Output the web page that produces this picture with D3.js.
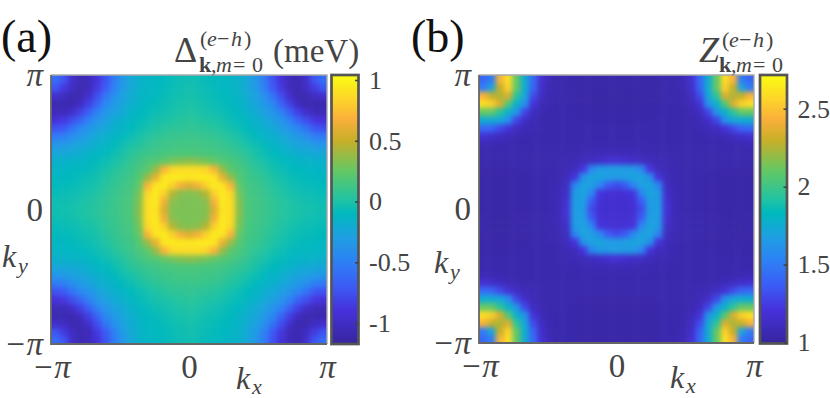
<!DOCTYPE html>
<html>
<head>
  <meta charset="UTF-8">
  <style>
    body { margin: 0; background: #fff; }
    svg { display: block; }
    text { font-family: "Liberation Serif", serif; fill: #444; }
  </style>
</head>
<body>
<svg width="830" height="398"></svg>
<script src="https://d3js.org/d3.v7.min.js"></script>
<script>
// one quadrant of each map: row/col 0 = k=0, row/col 16 = |k|=pi
const gapRows = [
  [.32,.32,.33,.58,.92,.88,.35,.17,.14,.11,.08,.05,.02,0,-.02,-.03,-.04],
  [.32,.32,.35,.66,.95,.88,.33,.17,.14,.11,.07,.04,.01,-.01,-.03,-.04,-.05],
  [.33,.35,.45,.82,.95,.85,.3,.16,.13,.1,.06,.02,-.01,-.03,-.05,-.06,-.07],
  [.58,.66,.82,.95,.92,.7,.25,.15,.12,.08,.04,0,-.03,-.05,-.07,-.08,-.09],
  [.92,.95,.95,.92,.62,.38,.2,.13,.1,.06,.01,-.02,-.05,-.07,-.09,-.1,-.11],
  [.88,.88,.85,.7,.38,.22,.17,.11,.07,.03,-.02,-.05,-.08,-.1,-.11,-.12,-.13],
  [.35,.33,.3,.25,.2,.17,.13,.08,.03,-.01,-.05,-.08,-.11,-.13,-.14,-.15,-.16],
  [.17,.17,.16,.15,.13,.11,.08,.04,-.01,-.05,-.09,-.12,-.15,-.19,-.21,-.23,-.24],
  [.14,.14,.13,.12,.1,.07,.03,-.01,-.04,-.09,-.13,-.16,-.22,-.25,-.28,-.33,-.35],
  [.11,.11,.1,.08,.06,.03,-.01,-.05,-.09,-.13,-.17,-.21,-.28,-.33,-.4,-.5,-.52],
  [.08,.07,.06,.04,.01,-.02,-.05,-.09,-.13,-.17,-.22,-.29,-.36,-.45,-.56,-.7,-.74],
  [.05,.04,.02,0,-.02,-.05,-.08,-.12,-.16,-.21,-.29,-.36,-.48,-.64,-.76,-.86,-.9],
  [.02,.01,-.01,-.03,-.05,-.08,-.11,-.15,-.22,-.28,-.36,-.48,-.66,-.82,-.96,-1.04,-1.04],
  [0,-.01,-.03,-.05,-.07,-.1,-.13,-.19,-.25,-.33,-.45,-.64,-.82,-1,-1.08,-1.08,-1.08],
  [-.02,-.03,-.05,-.07,-.09,-.11,-.14,-.21,-.28,-.4,-.56,-.76,-.96,-1.08,-1.08,-1,-.96],
  [-.03,-.04,-.06,-.08,-.1,-.12,-.15,-.23,-.33,-.5,-.7,-.86,-1.04,-1.08,-1,-.85,-.72],
  [-.04,-.05,-.07,-.09,-.11,-.13,-.16,-.24,-.35,-.52,-.74,-.9,-1.04,-1.08,-.96,-.72,-.6]
];
const zRows = [
  [1.17,1.17,1.18,1.3,1.66,1.68,1.2,1.08,1.06,1.05,1.05,1.04,1.04,1.03,1.03,1.03,1.04],
  [1.17,1.17,1.19,1.36,1.68,1.66,1.18,1.08,1.06,1.05,1.05,1.04,1.04,1.03,1.03,1.03,1.04],
  [1.18,1.19,1.22,1.55,1.7,1.66,1.15,1.08,1.06,1.05,1.05,1.04,1.04,1.03,1.03,1.03,1.04],
  [1.3,1.36,1.55,1.68,1.7,1.55,1.12,1.07,1.06,1.05,1.05,1.04,1.04,1.03,1.03,1.03,1.04],
  [1.66,1.68,1.7,1.7,1.6,1.22,1.1,1.07,1.06,1.05,1.05,1.04,1.04,1.04,1.03,1.03,1.04],
  [1.68,1.66,1.66,1.55,1.22,1.1,1.08,1.06,1.05,1.05,1.05,1.05,1.04,1.04,1.04,1.04,1.04],
  [1.2,1.18,1.15,1.12,1.1,1.08,1.07,1.06,1.05,1.05,1.05,1.05,1.05,1.05,1.05,1.05,1.05],
  [1.08,1.08,1.08,1.07,1.07,1.06,1.06,1.05,1.05,1.05,1.05,1.05,1.05,1.05,1.05,1.05,1.05],
  [1.06,1.06,1.06,1.06,1.06,1.05,1.05,1.05,1.05,1.05,1.05,1.05,1.05,1.06,1.06,1.07,1.08],
  [1.05,1.05,1.05,1.05,1.05,1.05,1.05,1.05,1.05,1.05,1.06,1.06,1.07,1.09,1.12,1.15,1.18],
  [1.05,1.05,1.05,1.05,1.05,1.05,1.05,1.05,1.05,1.06,1.07,1.09,1.12,1.2,1.3,1.4,1.42],
  [1.04,1.04,1.04,1.04,1.04,1.05,1.05,1.05,1.05,1.06,1.09,1.14,1.28,1.6,1.72,1.75,1.75],
  [1.04,1.04,1.04,1.04,1.04,1.04,1.05,1.05,1.05,1.07,1.12,1.28,1.62,1.78,1.95,2.1,2.1],
  [1.03,1.03,1.03,1.03,1.04,1.04,1.05,1.05,1.06,1.09,1.2,1.6,1.78,2.05,2.35,2.55,2.6],
  [1.03,1.03,1.03,1.03,1.03,1.04,1.05,1.05,1.06,1.12,1.3,1.72,1.95,2.35,2.25,2.3,2.45],
  [1.03,1.03,1.03,1.03,1.03,1.04,1.05,1.05,1.07,1.15,1.4,1.75,2.1,2.55,2.3,1.7,1.5],
  [1.04,1.04,1.04,1.04,1.04,1.04,1.05,1.05,1.08,1.18,1.42,1.75,2.1,2.6,2.45,1.5,1.42]
];
const kTicks = [-Math.PI, 0, Math.PI];
const kLabels = ["\u2212\u03c0", "0", "\u03c0"];
const gapRange = [-1.164, 1.033];
const gapTicks = [-1, -0.5, 0, 0.5, 1];
const gapLabels = ["-1", "-0.5", "0", "0.5", "1"];
const zRange = [1, 2.71];
const zTicks = [1, 1.5, 2, 2.5];
const zLabels = ["1", "1.5", "2", "2.5"];
// colormap: fraction of the range and colour
const mapStops = [0, .126, .21, .31, .4, .487, .535, .647, .76, .84, .92, 1];
const mapColors = ["#37269f","#4632dc","#3c5af5","#2d82f5","#1ea0e1","#00b9be","#1ec3a5","#64c864","#c8af28","#faaf3c","#fdd728","#f9fb14"];

const svg = d3.select("svg");
const defs = svg.append("defs");
defs.append("filter").attr("id", "soft")
    .attr("filterUnits", "userSpaceOnUse")
    .attr("x", 0).attr("y", 0).attr("width", 830).attr("height", 398)
    .attr("color-interpolation-filters", "sRGB")
  .append("feGaussianBlur").attr("stdDeviation", 2.4);

function drawPanel(id, rows, box, range, ticks, labels, barBox) {
  const color = d3.scaleLinear()
      .domain(mapStops.map(f => range[0] + (range[1] - range[0]) * f))
      .range(mapColors);

  // band scales over signed grid index, the quadrant is mirrored into the other three
  const idx = d3.range(-16, 17);
  const bx = d3.scaleBand().domain(idx).range([box.x0, box.x1]);
  const by = d3.scaleBand().domain(idx).range([box.y1, box.y0]);
  const pad = 14; // outer cells overhang the frame so the blur doesn't fade at the edge

  defs.append("clipPath").attr("id", "clip" + id)
    .append("rect")
      .attr("x", box.x0).attr("y", box.y0)
      .attr("width", box.x1 - box.x0).attr("height", box.y1 - box.y0);

  const cells = [];
  idx.forEach(j => idx.forEach(i => cells.push({ i, j, v: rows[Math.abs(j)][Math.abs(i)] })));

  svg.append("g").attr("clip-path", `url(#clip${id})`)
    .append("g").attr("filter", "url(#soft)")
    .selectAll("rect").data(cells).enter().append("rect")
      .attr("x", d => bx(d.i) - (d.i === -16 ? pad : 0))
      .attr("y", d => by(d.j) - (d.j === 16 ? pad : 0))
      .attr("width", d => bx.bandwidth() + (Math.abs(d.i) === 16 ? pad : 0) + 0.5)
      .attr("height", d => by.bandwidth() + (Math.abs(d.j) === 16 ? pad : 0) + 0.5)
      .attr("fill", d => color(d.v));

  // frame: left and bottom read darker than top and right in the original
  const frame = svg.append("g").attr("fill", "none");
  frame.append("path").attr("d", `M${box.x0},${box.y0}H${box.x1}V${box.y1}`)
      .attr("stroke", "#a8a8a8").attr("stroke-width", 1.4);
  frame.append("path").attr("d", `M${box.x0},${box.y0}V${box.y1}H${box.x1}`)
      .attr("stroke", "#666").attr("stroke-width", 1.8);

  const x = d3.scaleLinear().domain([-Math.PI, Math.PI]).range([box.x0, box.x1]);
  const y = d3.scaleLinear().domain([-Math.PI, Math.PI]).range([box.y1, box.y0]);
  const xAxis = svg.append("g").attr("transform", `translate(0,${box.y1})`)
      .call(d3.axisBottom(x).tickValues(kTicks).tickSize(0).tickPadding(11)
        .tickFormat((d, i) => kLabels[i]));
  const yAxis = svg.append("g").attr("transform", `translate(${box.x0},0)`)
      .call(d3.axisLeft(y).tickValues(kTicks).tickSize(0).tickPadding(8)
        .tickFormat((d, i) => kLabels[i]));
  [xAxis, yAxis].forEach(a => {
    a.select(".domain").remove();
    a.selectAll("text").attr("font-size", 33)
      .attr("font-style", d => d === 0 ? "normal" : "italic");
  });

  // colorbar
  const barY = d3.scaleLinear().domain(range).range([barBox.y1, barBox.y0]);
  const steps = d3.range(0, 134).map(s => range[0] + (range[1] - range[0]) * s / 133);
  svg.append("g").selectAll("rect").data(steps).enter().append("rect")
      .attr("x", barBox.x0).attr("width", barBox.x1 - barBox.x0)
      .attr("y", d => barY(d) - 1.5).attr("height", 3)
      .attr("fill", d => color(d));
  svg.append("rect")
      .attr("x", barBox.x0).attr("y", barBox.y0 - 1)
      .attr("width", barBox.x1 - barBox.x0).attr("height", barBox.y1 - barBox.y0 + 2)
      .attr("fill", "none").attr("stroke", "#555").attr("stroke-width", 2.7);
  const barAxis = svg.append("g").attr("transform", `translate(${barBox.x1},0)`)
      .call(d3.axisRight(barY).tickValues(ticks).tickSize(-3.5).tickPadding(10.5)
        .tickFormat((d, i) => labels[i]));
  barAxis.select(".domain").remove();
  barAxis.selectAll("line").attr("stroke", "#444").attr("stroke-width", 1.6);
  barAxis.selectAll("text").attr("font-size", 26);
}

drawPanel("a", gapRows, { x0: 51, x1: 327, y0: 75, y1: 344 }, gapRange, gapTicks, gapLabels,
  { x0: 331.5, x1: 358.5, y0: 76, y1: 343 });
drawPanel("b", zRows, { x0: 479, x1: 754, y0: 75, y1: 343 }, zRange, zTicks, zLabels,
  { x0: 760, x1: 787, y0: 76, y1: 342.5 });

// panel letters, titles and axis names
const superParts = [
  { t: "(", dx: 0 }, { t: "e", dx: 7, i: 1 }, { t: "\u2212", dx: 17 }, { t: "h", dx: 31, i: 1 }, { t: ")", dx: 44 }
];
const subParts = [
  { t: "k", dx: 0, b: 1 }, { t: ",", dx: 12 }, { t: "m", dx: 17, i: 1 }, { t: "=", dx: 34 }, { t: "0", dx: 53 }
];
function scripts(supX, subX, supY, subY) {
  return superParts.map(p => ({ ...p, x: supX + p.dx, y: supY, s: 22 }))
    .concat(subParts.map(p => ({ ...p, x: subX + p.dx, y: subY, s: 22 })));
}
const texts = [
  { t: "(a)", x: 1, y: 52, s: 46, c: "#111" },
  { t: "(b)", x: 411, y: 52, s: 46, c: "#111" },
  { t: "\u0394", x: 174, y: 62, s: 36 },
  { t: "(meV)", x: 273, y: 62, s: 33 },
  { t: "Z", x: 699, y: 62, s: 36, i: 1 },
  { t: "k", x: 236, y: 389, s: 32, i: 1 },
  { t: "x", x: 252, y: 394, s: 22, i: 1 },
  { t: "k", x: 2, y: 267, s: 32, i: 1 },
  { t: "y", x: 18, y: 273, s: 22, i: 1 },
  { t: "k", x: 670, y: 388, s: 32, i: 1 },
  { t: "x", x: 686, y: 393, s: 22, i: 1 },
  { t: "k", x: 434, y: 273, s: 32, i: 1 },
  { t: "y", x: 450, y: 279, s: 22, i: 1 }
].concat(scripts(200, 199, 46, 72), scripts(722, 719, 46.5, 72));

svg.append("g").selectAll("text").data(texts).enter().append("text")
    .attr("x", d => d.x).attr("y", d => d.y)
    .attr("font-size", d => d.s)
    .attr("font-style", d => d.i ? "italic" : "normal")
    .attr("font-weight", d => d.b ? "bold" : "normal")
    .style("fill", d => d.c || "#444")
    .text(d => d.t);
</script>
</body>
</html>
